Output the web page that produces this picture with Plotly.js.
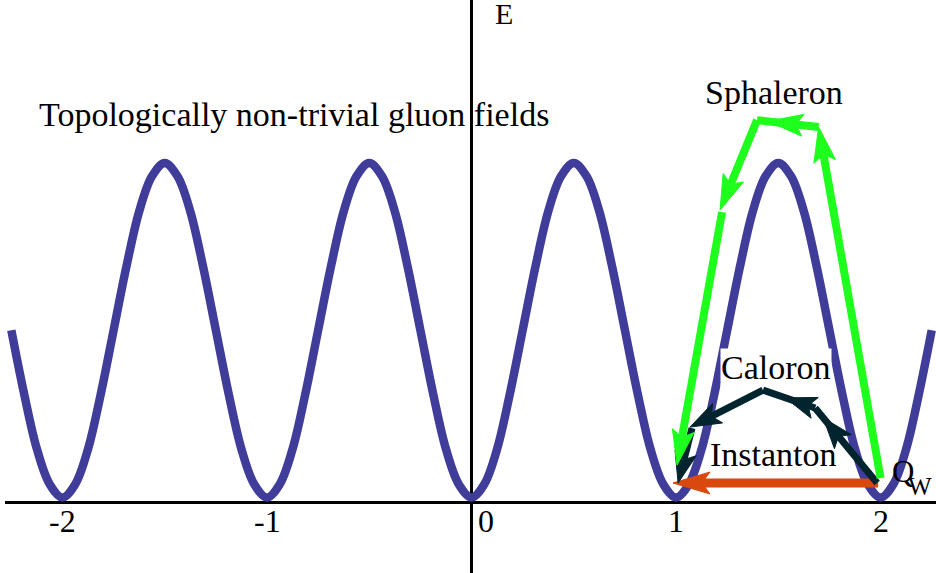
<!DOCTYPE html>
<html><head><meta charset="utf-8">
<script src="https://cdn.plot.ly/plotly-3.0.1.min.js"></script>
<style>html,body{margin:0;padding:0;background:#fff;}#chart{width:936px;height:573px;}</style>
</head><body><div id="chart"></div>
<script>
// Energy landscape E vs Q_W
const curveQ = [-2.25,-2.1875,-2.125,-2.0625,-2,-1.9375,-1.875,-1.8125,-1.75,-1.6875,-1.625,-1.5625,-1.5,-1.4375,-1.375,-1.3125,-1.25,-1.1875,-1.125,-1.0625,-1,-0.9375,-0.875,-0.8125,-0.75,-0.6875,-0.625,-0.5625,-0.5,-0.4375,-0.375,-0.3125,-0.25,-0.1875,-0.125,-0.0625,0,0.0625,0.125,0.1875,0.25,0.3125,0.375,0.4375,0.5,0.5625,0.625,0.6875,0.75,0.8125,0.875,0.9375,1,1.0625,1.125,1.1875,1.25,1.3125,1.375,1.4375,1.5,1.5625,1.625,1.6875,1.75,1.8125,1.875,1.9375,2,2.0625,2.125,2.1875,2.25];
const curveE = [1.03,0.65,0.32,0.11,
  0.03,0.11,0.32,0.65,1.03,1.41,1.74,1.95,2.03,1.95,1.74,1.41,1.03,0.65,0.32,0.11,
  0.03,0.11,0.32,0.65,1.03,1.41,1.74,1.95,2.03,1.95,1.74,1.41,1.03,0.65,0.32,0.11,
  0.03,0.11,0.32,0.65,1.03,1.41,1.74,1.95,2.03,1.95,1.74,1.41,1.03,0.65,0.32,0.11,
  0.03,0.11,0.32,0.65,1.03,1.41,1.74,1.95,2.03,1.95,1.74,1.41,1.03,0.65,0.32,0.11,
  0.03,0.11,0.32,0.65,1.03];

// Sphaleron path (green), segments from -> to, head position as fraction along segment
const sphFromX = [2.00, 1.697, 1.396, 1.225];
const sphFromY = [0.146, 2.245, 2.286, 1.736];
const sphToX   = [1.697, 1.396, 1.215, 1.005];
const sphToY   = [2.245, 2.286, 1.748, 0.224];
const sphHeadAt = [1, 0.82, 1, 1];

// Caloron path (dark)
const calFromX = [1.983, 1.680, 1.425, 1.078];
const calFromY = [0.117, 0.565, 0.672, 0.445];
const calToX   = [1.680, 1.425, 1.068, 1.010];
const calToY   = [0.565, 0.672, 0.451, 0.117];
const calHeadAt = [0.87, 0.57, 1, 1];

// Instanton path (orange)
const insFromX = [1.988];
const insFromY = [0.117];
const insToX   = [0.985];
const insToY   = [0.117];
const insHeadAt = [1];

// Tick labels
const tickVals = [-2, -1, 0, 1, 2];
const tickText = ['-2', '-1', '0', '1', '2'];

// Text labels
const labelTexts = ['Topologically non-trivial gluon fields', 'Sphaleron', 'Caloron', 'Instanton', 'E', 'Q', 'W'];

const W = 936, H = 573, mL = 5;
const xRange = [-2.281, 2.271], yRange = [-0.421, 3.004];
const kx = (W - mL) / (xRange[1] - xRange[0]);
const ky = H / (yRange[1] - yRange[0]);

function buildArrows(fx, fy, tx, ty, at, L, Wd, N) {
  const sx = [], sy = [], hx = [], hy = [];
  for (let i = 0; i < fx.length; i++) {
    const tipX = fx[i] + (tx[i] - fx[i]) * at[i];
    const tipY = fy[i] + (ty[i] - fy[i]) * at[i];
    let dx = (tx[i] - fx[i]) * kx, dy = -(ty[i] - fy[i]) * ky;
    const len = Math.hypot(dx, dy); dx /= len; dy /= len;
    const nx = -dy, ny = dx;
    const pts = [[0, 0], [-L * dx + Wd * nx, -L * dy + Wd * ny], [-(L - N) * dx, -(L - N) * dy], [-L * dx - Wd * nx, -L * dy - Wd * ny], [0, 0]];
    pts.forEach(p => { hx.push(tipX + p[0] / kx); hy.push(tipY - p[1] / ky); });
    hx.push(null); hy.push(null);
    let ex = tx[i], ey = ty[i];
    if (at[i] >= 1) { ex = tipX + (-(L - N) * dx) / kx; ey = tipY - (-(L - N) * dy) / ky; }
    sx.push(fx[i], ex, null); sy.push(fy[i], ey, null);
  }
  return { sx, sy, hx, hy };
}

const traces = [{
  x: curveQ, y: curveE, type: 'scatter', mode: 'lines',
  line: { color: '#403c99', width: 8.5, shape: 'spline', smoothing: 1 }, hoverinfo: 'skip'
}];

function addGroup(a, color, width) {
  traces.push({ x: a.sx, y: a.sy, type: 'scatter', mode: 'lines', line: { color: color, width: width }, hoverinfo: 'skip' });
  traces.push({ x: a.hx, y: a.hy, type: 'scatter', mode: 'lines', fill: 'toself', fillcolor: color, line: { color: color, width: 1 }, hoverinfo: 'skip' });
}
addGroup(buildArrows(insFromX, insFromY, insToX, insToY, insHeadAt, 37, 11, 8), '#d9480c', 9);
addGroup(buildArrows(calFromX, calFromY, calToX, calToY, calHeadAt, 31, 11, 7), '#02242e', 7);
addGroup(buildArrows(sphFromX, sphFromY, sphToX, sphToY, sphHeadAt, 35, 11, 7), '#1eff1e', 8);

const font = 'Liberation Serif';
const annotations = [];
tickVals.forEach((v, i) => {
  annotations.push({ x: v, y: yRange[1] - 521 / ky, xref: 'x', yref: 'y', text: tickText[i], showarrow: false,
    xanchor: 'center', yanchor: 'middle', xshift: v === 0 ? 14 : 0, font: { family: font, size: 32, color: '#000' } });
});
// [x px, y px, xanchor, yanchor, bg]
const labelPos = [[294, 114, 'center', 'middle', null], [774, 92, 'center', 'middle', null], [776, 367, 'center', 'middle', '#fff'],
  [773, 454, 'center', 'middle', null], [503.5, -4, 'center', 'top', null], [891, 471, 'left', 'middle', null], [907, 486, 'left', 'middle', null]];
const labelSize = [34, 34, 34, 34, 30, 31, 25];
labelTexts.forEach((t, i) => {
  const p = labelPos[i];
  annotations.push({ x: (p[0] - mL) / (W - mL), y: 1 - p[1] / H, xref: 'paper', yref: 'paper', text: t, showarrow: false,
    xanchor: p[2], yanchor: p[3], bgcolor: p[4] || 'rgba(0,0,0,0)', borderpad: 0,
    font: { family: font, size: labelSize[i], color: '#000' } });
});

const layout = {
  width: W, height: H, margin: { l: mL, r: 0, t: 0, b: 0 },
  paper_bgcolor: '#fff', plot_bgcolor: '#fff', showlegend: false, hovermode: false,
  xaxis: { range: xRange, showgrid: false, showticklabels: false, ticks: '', zeroline: true, zerolinecolor: '#000', zerolinewidth: 2.5, showline: false },
  yaxis: { range: yRange, showgrid: false, showticklabels: false, ticks: '', zeroline: true, zerolinecolor: '#000', zerolinewidth: 3, showline: false },
  annotations: annotations
};
Plotly.newPlot('chart', traces, layout, { staticPlot: true });
</script></body></html>
